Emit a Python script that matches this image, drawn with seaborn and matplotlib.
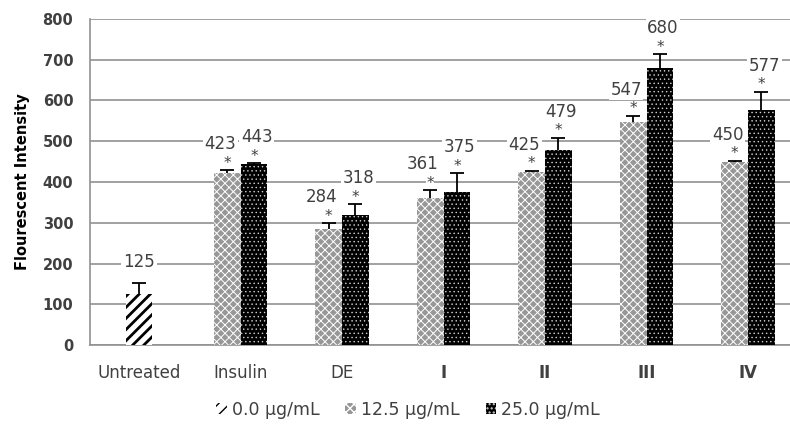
import matplotlib
matplotlib.use("Agg")
import matplotlib.pyplot as plt
import seaborn as sns
import pandas as pd

# ---- data ----
groups = ["Untreated", "Insulin", "DE", "I", "II", "III", "IV"]
conc_labels = ["0.0 \u03bcg/mL", "12.5 \u03bcg/mL", "25.0 \u03bcg/mL"]
untreated_value = [125]
untreated_err = [26]
treated_groups = ["Insulin", "DE", "I", "II", "III", "IV"]
values_12_5 = [423, 284, 361, 425, 547, 450]
errors_12_5 = [6, 15, 19, 2, 16, 2]
values_25_0 = [443, 318, 375, 479, 680, 577]
errors_25_0 = [3, 28, 46, 30, 33, 45]
y_ticks = [0, 100, 200, 300, 400, 500, 600, 700, 800]

df_u = pd.DataFrame({"group": ["Untreated"], "value": untreated_value,
                     "conc": [conc_labels[0]]})
df_t = pd.DataFrame({
    "group": treated_groups * 2,
    "value": values_12_5 + values_25_0,
    "conc": [conc_labels[1]] * len(treated_groups) + [conc_labels[2]] * len(treated_groups),
})

sns.set_theme(style="white")
plt.rcParams["font.family"] = ["DejaVu Sans"]
plt.rcParams["hatch.linewidth"] = 1.0

fig = plt.figure(figsize=(7.9, 4.25), dpi=100)
ax = fig.add_axes([90 / 790, 1 - 345 / 425, 1 - 90 / 790, (345 - 19) / 425])

sns.barplot(data=df_u, x="group", y="value", order=groups, width=0.266,
            color="white", ax=ax, errorbar=None, zorder=3)
sns.barplot(data=df_t, x="group", y="value", hue="conc", order=groups,
            hue_order=conc_labels[1:], width=0.53, dodge=True,
            palette=["#8a8a8a", "black"], ax=ax, errorbar=None, legend=False,
            zorder=3)

styles = [
    dict(face="white", hatch_col="black", hatch="///", hlw=2.0),
    dict(face="#979797", hatch_col="white", hatch="xxxx", hlw=0.7),
    dict(face="black", hatch_col="#d0d0d0", hatch="....", hlw=0.5),
]
containers = list(ax.containers)
for cont, st in zip(containers, styles):
    for p in cont.patches:
        p.set_facecolor(st["face"])
        p.set_edgecolor(st["hatch_col"])
        p.set_hatch(st["hatch"])
        p.set_linewidth(0)
        if hasattr(p, "set_hatch_linewidth"):
            p.set_hatch_linewidth(st["hlw"])

all_vals = [untreated_value, values_12_5, values_25_0]
all_errs = [untreated_err, errors_12_5, errors_25_0]
label_dx = [0, -7, 3]
for i, (cont, vals, errs) in enumerate(zip(containers, all_vals, all_errs)):
    xs = [p.get_x() + p.get_width() / 2 for p in cont.patches]
    hs = [p.get_height() for p in cont.patches]
    for x, h, e in zip(xs, hs, errs):
        ax.plot([x, x], [h, h + e], color="black", linewidth=1.3,
                solid_capstyle="butt", zorder=6)
        ax.plot([x], [h + e], marker="_", markersize=10, markeredgewidth=1.3,
                color="black", linestyle="none", zorder=6)
    for x, h, v, e in zip(xs, hs, vals, errs):
        top = h + e
        if i > 0:
            ax.annotate("*", (x, top), xytext=(0, 7), textcoords="offset pixels",
                        ha="center", va="center", fontsize=11, color="#404040",
                        zorder=5,
                        bbox=dict(boxstyle="square,pad=0.0", fc="white", ec="none"))
            dy = 26
        else:
            dy = 21
        ax.annotate(f"{v}", (x, top), xytext=(label_dx[i], dy),
                    textcoords="offset pixels", ha="center", va="center",
                    fontsize=12, color="#404040", zorder=5,
                    bbox=dict(boxstyle="square,pad=0.1", fc="white", ec="none"))

ax.set_xlim(-(139 - 90) / 101.5, (790 - 139) / 101.5)
ax.set_ylim(0, 800)
ax.set_yticks(y_ticks)
ax.yaxis.grid(True, color="#919191", linewidth=1.2, zorder=0)
ax.set_axisbelow(True)
for s in ["top", "right"]:
    ax.spines[s].set_visible(False)
for s in ["left", "bottom"]:
    ax.spines[s].set_color("#919191")
    ax.spines[s].set_linewidth(1.2)

ax.tick_params(axis="y", length=0, pad=12, labelsize=10.5, labelcolor="#404040")
ax.tick_params(axis="x", length=0, pad=14, labelsize=12, labelcolor="#404040")
for lab in ax.get_yticklabels():
    lab.set_fontweight("bold")
for lab in ax.get_xticklabels():
    if lab.get_text() in ["I", "II", "III", "IV"]:
        lab.set_fontweight("bold")

ax.set_xlabel("")
ax.set_ylabel("Flourescent Intensity", fontsize=10.5, fontweight="bold",
              color="black", labelpad=9)

leg = fig.legend(handles=containers, labels=conc_labels, loc="center",
                 bbox_to_anchor=(408 / 790, 1 - 410 / 425), ncol=3, frameon=False,
                 handlelength=0.6, handleheight=0.6, handletextpad=0.3,
                 columnspacing=1.5, fontsize=12.5, labelcolor="#404040")

fig.savefig("out.png", dpi=100)
